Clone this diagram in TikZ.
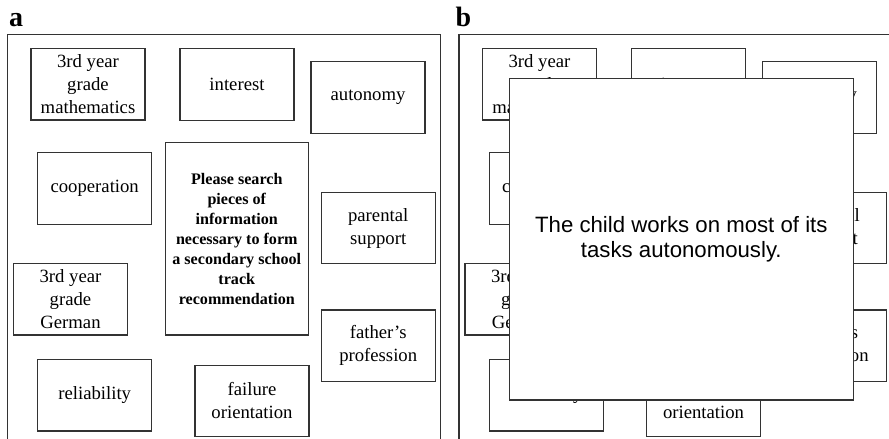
\documentclass[tikz,border=0pt]{standalone}
\usepackage{fontspec}
\setmainfont{Liberation Serif}
\newfontfamily\cardsans{Liberation Sans}
\begin{document}
\begin{tikzpicture}[x=1pt,y=-1pt,
  card/.style={draw=black!80, line width=1.4pt, fill=white, rectangle,
    minimum width=114pt, minimum height=71.5pt, inner sep=2pt,
    align=center, font=\fontsize{18.7}{23}\selectfont},
  taskcard/.style={card, minimum width=143pt, minimum height=192.3pt,
    font=\fontsize{16.1}{20}\selectfont\bfseries},
  infocard/.style={card, minimum width=344pt, minimum height=321.3pt,
    font=\cardsans\fontsize{22.2}{25}\selectfont},
  panelframe/.style={draw=black!80, line width=1.4pt},
  panellabel/.style={anchor=base west, inner sep=0pt,
    font=\fontsize{28}{30}\selectfont\bfseries}]
\useasboundingbox (0,0) rectangle (889,439);
\clip (0,0) rectangle (889,439);

% the same card layout in both panels
\foreach \dx/\p in {0/a, 451.5/b} {
  \begin{scope}[shift={(\dx,0)}]
    \node[card] (\p-math) at (88,84.3) {3rd year\\grade\\mathematics};
    \node[card] (\p-interest) at (237,84.5) {interest};
    \node[card] (\p-autonomy) at (368,97.5) {autonomy};
    \node[card] (\p-coop) at (94.7,188.5) {cooperation};
    \node[taskcard] (\p-task) at (236.8,238.8)
      {Please search\\pieces of\\information\\necessary to form\\a secondary school\\track\\recommendation};
    \node[card] (\p-parent) at (378.2,228) {parental\\support};
    \node[card] (\p-german) at (70.5,299.3) {3rd year\\grade\\German};
    \node[card] (\p-father) at (378.2,345.7) {father’s\\profession};
    \node[card] (\p-reliab) at (94.7,395.3) {reliability};
    \node[card] (\p-failure) at (252,401) {failure\\orientation};
  \end{scope}
}

% panel frames (open at the lower edge)
\draw[panelframe] (7.3,450) -- (7.3,34.3) -- (440.7,34.3) -- (440.7,450);
\draw[panelframe] (458.8,450) -- (458.8,34.3) -- (900,34.3);

% information card opened on top of panel b
\node[infocard] (info) at (681.3,239.3)
  {The child works on most of its\\tasks autonomously.};

\node[panellabel] (la) at (9,26.5) {a};
\node[panellabel] (lb) at (455.5,26.5) {b};
\end{tikzpicture}
\end{document}
